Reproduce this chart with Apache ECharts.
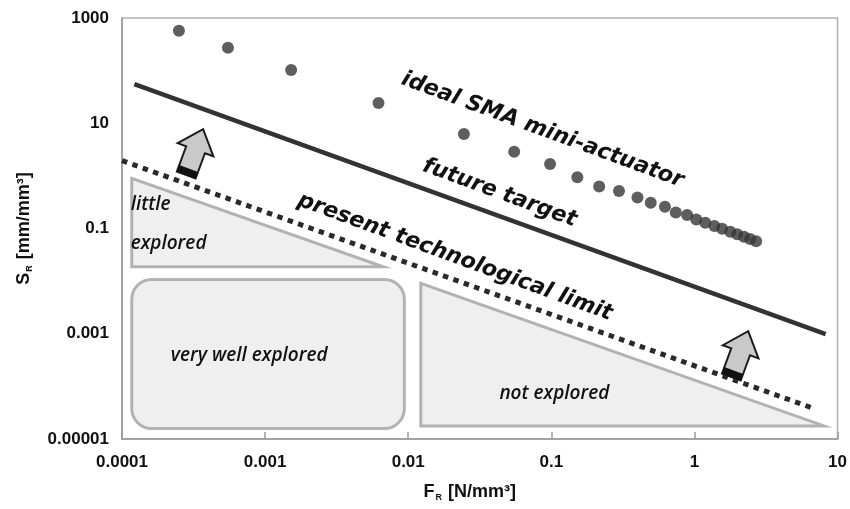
<!DOCTYPE html>
<html>
<head>
<meta charset="utf-8">
<script src="https://cdn.jsdelivr.net/npm/echarts@6/dist/echarts.min.js"></script>
<style>html,body{margin:0;padding:0;background:#fff}#c{width:850px;height:509px}</style>
</head>
<body>
<div id="c"></div>
<script>
// ---- data ----
const xTickValues = [0.0001, 0.001, 0.01, 0.1, 1, 10];
const xTickLabels = ['0.0001', '0.001', '0.01', '0.1', '1', '10'];
const yTickValues = [0.00001, 0.001, 0.1, 10, 1000];
const yTickLabels = ['0.00001', '0.001', '0.1', '10', '1000'];

// ideal SMA mini-actuator points [F_R, S_R]
const smaF = [0.00025, 0.00055, 0.00152, 0.0062, 0.0245, 0.055, 0.098, 0.152, 0.216, 0.297, 0.40, 0.495, 0.622, 0.741, 0.889, 1.03, 1.19, 1.38, 1.56, 1.78, 1.99, 2.22, 2.45, 2.70];
const smaS = [574, 272, 102.6, 24.2, 6.24, 2.87, 1.69, 0.937, 0.63, 0.514, 0.39, 0.308, 0.258, 0.202, 0.18, 0.149, 0.129, 0.112, 0.0986, 0.0869, 0.0776, 0.0695, 0.0631, 0.0574];

// future target line and present technological limit
const futureTarget = [[0.000122, 55.6], [8.26, 0.00098]];
const presentLimit = [[0.0001, 1.95], [7.03, 0.0000369]];

// explored regions
const littleExplored = [[0.000117, 0.895], [0.000117, 0.0187], [0.0067, 0.0187]];
const veryWellExplored = [[0.000117, 0.01077], [0.0094, 0.0000158]];
const notExplored = [[0.01225, 0.00904], [0.01225, 0.0000177], [8.04, 0.0000177]];

// arrows (base points)
const arrows = [[0.000281, 1.035], [1.81, 0.00015]];

// annotations: [text, F_R, S_R]
const lineLabels = [
  ['ideal SMA mini-actuator', 0.0866, 7.43],
  ['future target', 0.0435, 0.471],
  ['present technological limit', 0.0212, 0.0286]
];
const regionLabels = [
  ['little', 0.000115, 0.279, 'left'],
  ['explored', 0.000115, 0.0527, 'left'],
  ['very well explored', 0.000774, 0.000392, 'center'],
  ['not explored', 0.105, 0.0000743, 'center']
];

// ---- chart ----
const chart = echarts.init(document.getElementById('c'));
const ANG = -20.2 * Math.PI / 180;
const tickLabelStyle = { fontFamily: 'Liberation Sans, Arial, sans-serif', fontWeight: 'bold', fontSize: 17, color: '#111' };
function findLabel(vals, labs, v) {
  for (let i = 0; i < vals.length; i++) {
    if (Math.abs(Math.log10(vals[i]) - Math.log10(v)) < 1e-6) return labs[i];
  }
  return '';
}
const regionStyle = { fill: '#efefef', stroke: '#b2b2b2', lineWidth: 3 };
const nameRich = {
  m: { fontFamily: 'Liberation Sans, Arial', fontWeight: 'bold', fontSize: 18, color: '#111' },
  s: { fontFamily: 'Liberation Sans, Arial', fontWeight: 'bold', fontSize: 9, color: '#111', verticalAlign: 'bottom', padding: [10, 1, 0, 1] }
};

function polySeries(verts) {
  return {
    type: 'custom', silent: true, z: 1,
    data: [0],
    renderItem: function (params, api) {
      return { type: 'polygon', shape: { points: verts.map(v => api.coord(v)) }, style: regionStyle };
    }
  };
}

chart.setOption({
  animation: false,
  backgroundColor: '#fff',
  grid: { left: 122, right: 9, top: 18, bottom: 70, show: true, borderColor: '#b0b0b0', borderWidth: 1.5 },
  xAxis: {
    type: 'log', logBase: 10, min: 0.0001, max: 10,
    name: '{m|F}{s|R}{m| [N/mm³]}', nameLocation: 'middle', nameGap: 44,
    nameTextStyle: { padding: [0, 20, 0, 0], rich: nameRich },
    axisLine: { lineStyle: { color: '#999', width: 1.5 } },
    axisTick: { show: true, inside: true, length: 7, lineStyle: { color: '#999', width: 1.5 } },
    splitLine: { show: false },
    axisLabel: { ...tickLabelStyle, margin: 15, formatter: v => findLabel(xTickValues, xTickLabels, v) }
  },
  yAxis: {
    type: 'log', logBase: 10, min: 0.00001, max: 1000,
    name: '{m|S}{s|R}{m| [mm/mm³]}', nameLocation: 'middle', nameGap: 88, nameRotate: 90,
    nameTextStyle: { rich: nameRich },
    axisLine: { lineStyle: { color: '#999', width: 1.5 } },
    axisTick: { show: false },
    splitLine: { show: false },
    axisLabel: { ...tickLabelStyle, margin: 13, formatter: v => findLabel(yTickValues, yTickLabels, v) }
  },
  series: [
    polySeries(littleExplored),
    polySeries(notExplored),
    {
      type: 'custom', silent: true, z: 1, data: [0],
      renderItem: function (params, api) {
        const a = api.coord(veryWellExplored[0]), b = api.coord(veryWellExplored[1]);
        return { type: 'rect', shape: { x: a[0], y: a[1], width: b[0] - a[0], height: b[1] - a[1], r: 20 }, style: regionStyle };
      }
    },
    {
      type: 'line', data: presentLimit, symbol: 'none', z: 3,
      lineStyle: { color: '#2a2a2a', width: 5, type: [5.5, 5.5], cap: 'butt' }
    },
    {
      type: 'line', data: futureTarget, symbol: 'none', z: 3,
      lineStyle: { color: '#333', width: 4.5 }
    },
    {
      type: 'scatter', data: smaF.map((f, i) => [f, smaS[i]]), symbolSize: 12, z: 4,
      itemStyle: { color: '#363636' }
    },
    {
      type: 'custom', silent: true, z: 5, data: arrows,
      renderItem: function (params, api) {
        const p = api.coord([api.value(0), api.value(1)]);
        return {
          type: 'group', x: p[0], y: p[1], rotation: ANG,
          children: [
            { type: 'polygon', shape: { points: [[-10, 0], [10, 0], [10, -27], [19, -27], [0, -49], [-19, -27], [-10, -27]] },
              style: { fill: '#c9c9c9', stroke: '#1c1c1c', lineWidth: 2 } },
            { type: 'rect', shape: { x: -10, y: -7, width: 20, height: 7 }, style: { fill: '#111' } }
          ]
        };
      }
    },
    {
      type: 'custom', silent: true, z: 6, data: lineLabels.map(l => [l[1], l[2]]),
      renderItem: function (params, api) {
        const p = api.coord([api.value(0), api.value(1)]);
        return { type: 'text', x: p[0], y: p[1], rotation: ANG,
          style: { text: lineLabels[params.dataIndex][0], align: 'center', verticalAlign: 'middle',
            font: 'italic bold 22px "DejaVu Sans", sans-serif', fill: '#111' } };
      }
    },
    {
      type: 'custom', silent: true, z: 6, data: regionLabels.map(l => [l[1], l[2]]),
      renderItem: function (params, api) {
        const p = api.coord([api.value(0), api.value(1)]);
        return { type: 'text', x: p[0], y: p[1],
          style: { text: regionLabels[params.dataIndex][0], align: regionLabels[params.dataIndex][3], verticalAlign: 'middle',
            font: 'italic 600 19px "Open Sans", sans-serif', fill: '#111' } };
      }
    }
  ]
});
</script>
</body>
</html>
